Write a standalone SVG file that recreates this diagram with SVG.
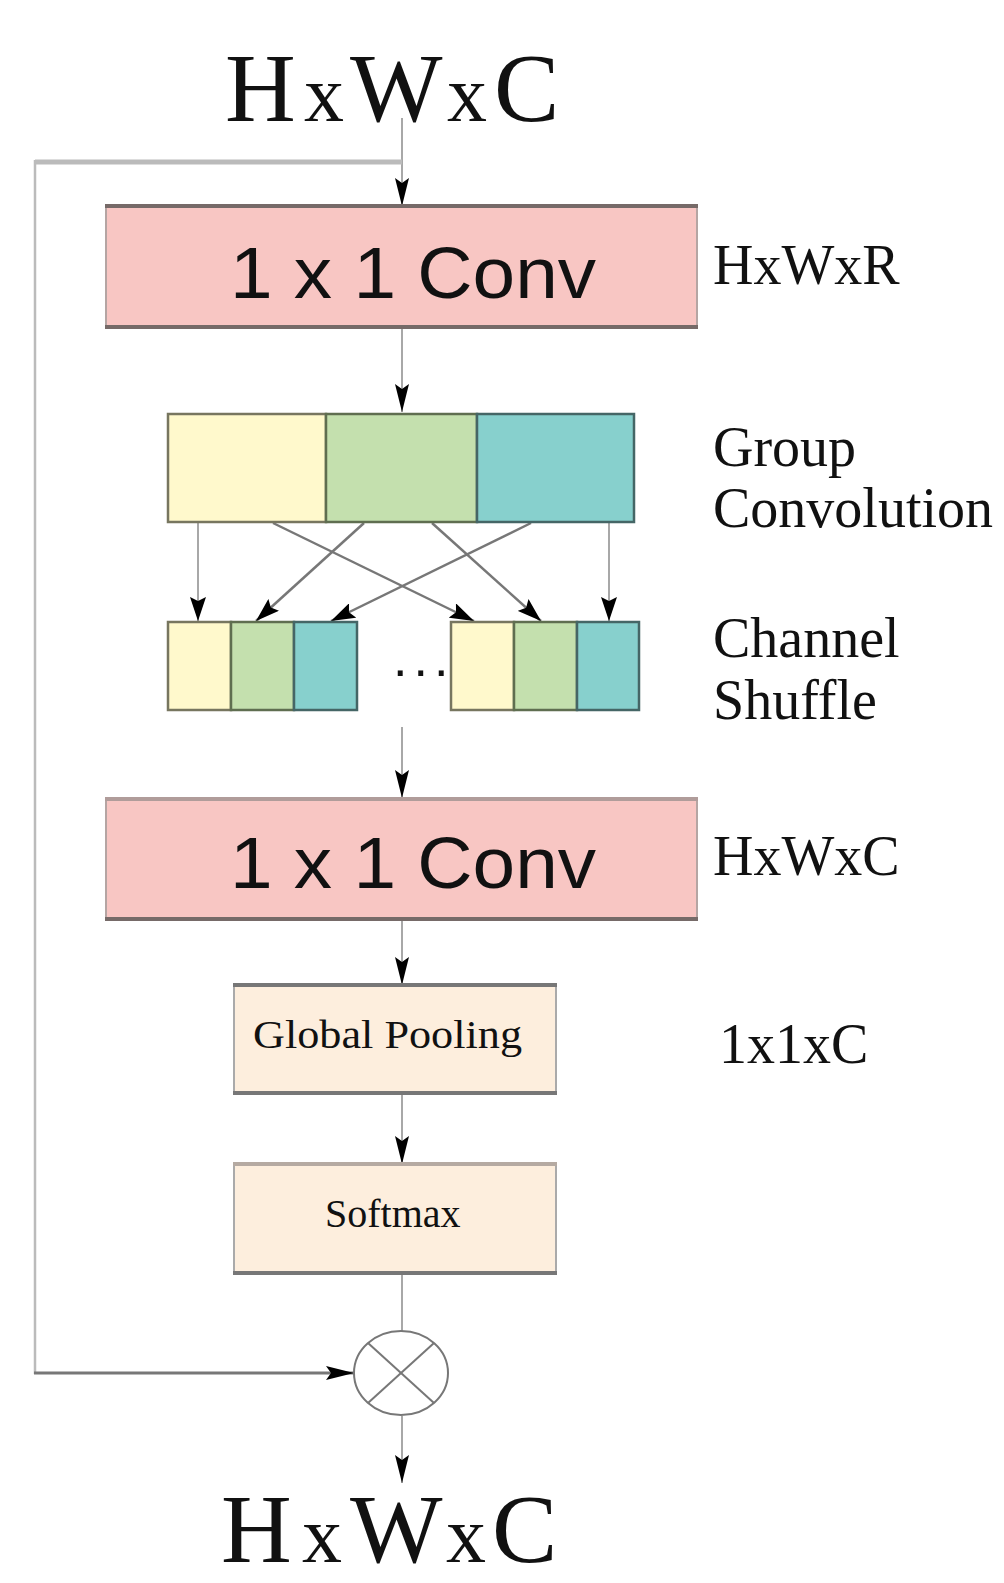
<svg xmlns="http://www.w3.org/2000/svg" width="1004" height="1583" viewBox="0 0 1004 1583">
<defs>
<style>
.serif{font-family:"Liberation Serif","Times New Roman",serif;fill:#111}
.sans{font-family:"Liberation Sans",Arial,sans-serif;fill:#111}
.ln{fill:none;stroke:#a8a8a8;stroke-width:2}
.dg{fill:none;stroke:#777;stroke-width:2.5}
.y{fill:#fff9cc;stroke:#77765f;stroke-width:2.5}
.g{fill:#c4e0ae;stroke:#5f6e50;stroke-width:2.5}
.t{fill:#87d0cd;stroke:#456666;stroke-width:2.5}
.sx{font-size:80px}
</style>
<marker id="ah" markerWidth="28" markerHeight="14" refX="28" refY="7" orient="auto" markerUnits="userSpaceOnUse">
<path d="M0,0 L28,7 L0,14 L5,7 z" fill="#000"/>
</marker>
<marker id="ah2" markerWidth="24" markerHeight="16" refX="24" refY="8" orient="auto" markerUnits="userSpaceOnUse">
<path d="M0,0 L24,8 L0,16 L4,8 z" fill="#000"/>
</marker>
</defs>
<rect width="1004" height="1583" fill="#fff"/>

<g id="connectors">
<line class="ln" x1="402" y1="118" x2="402" y2="206" marker-end="url(#ah)"/>
<polyline points="402,162 35,162" fill="none" stroke="#bbb" stroke-width="5"/>
<line x1="35" y1="160" x2="35" y2="1374" stroke="#bbb" stroke-width="2.5"/>
<line x1="34" y1="1373" x2="354" y2="1373" stroke="#777" stroke-width="3" marker-end="url(#ah)"/>
<line class="ln" x1="402" y1="328" x2="402" y2="412" marker-end="url(#ah)"/>
<line class="ln" x1="198" y1="523" x2="198" y2="621" marker-end="url(#ah2)"/>
<line class="ln" x1="609" y1="523" x2="609" y2="621" marker-end="url(#ah2)"/>
<line class="dg" x1="273" y1="523" x2="474" y2="621" marker-end="url(#ah2)"/>
<line class="dg" x1="364" y1="523" x2="256" y2="621" marker-end="url(#ah2)"/>
<line class="dg" x1="432" y1="523" x2="541" y2="621" marker-end="url(#ah2)"/>
<line class="dg" x1="531" y1="523" x2="331" y2="621" marker-end="url(#ah2)"/>
<line class="ln" x1="402" y1="727" x2="402" y2="798" marker-end="url(#ah)"/>
<line class="ln" x1="402" y1="920" x2="402" y2="985" marker-end="url(#ah)"/>
<line class="ln" x1="402" y1="1094" x2="402" y2="1164" marker-end="url(#ah)"/>
<line class="ln" x1="402" y1="1273" x2="402" y2="1331"/>
<line class="ln" x1="402" y1="1416" x2="402" y2="1483" marker-end="url(#ah)"/>
</g>

<g id="input">
<text class="serif" y="121" font-size="98"><tspan x="225">H</tspan><tspan class="sx" x="304">x</tspan><tspan x="350">W</tspan><tspan class="sx" x="447">x</tspan><tspan x="494">C</tspan></text>
</g>

<g id="conv1">
<rect x="106" y="206" width="591" height="121" fill="#f8c6c3" stroke="#b5a5a3" stroke-width="2"/>
<line x1="105" y1="206" x2="698" y2="206" stroke="#766a68" stroke-width="4"/>
<line x1="105" y1="327" x2="698" y2="327" stroke="#766a68" stroke-width="4"/>
<text class="sans" x="230" y="298" font-size="72" textLength="366" lengthAdjust="spacingAndGlyphs">1 x 1 Conv</text>
</g>
<g id="label-hxwxr"><text class="serif" x="713" y="284" font-size="56">HxWxR</text></g>

<g id="groupconv">
<rect class="y" x="168" y="414" width="158" height="108"/>
<rect class="g" x="326" y="414" width="151" height="108"/>
<rect class="t" x="477" y="414" width="157" height="108"/>
</g>
<g id="label-groupconv">
<text class="serif" x="713" y="466" font-size="56">Group</text>
<text class="serif" x="713" y="527" font-size="56">Convolution</text>
</g>

<g id="shuffle-left">
<rect class="y" x="168" y="622" width="63" height="88"/>
<rect class="g" x="231" y="622" width="63" height="88"/>
<rect class="t" x="294" y="622" width="63" height="88"/>
</g>
<g id="ellipsis"><text class="sans" x="393" y="676" font-size="52" letter-spacing="6">...</text></g>
<g id="shuffle-right">
<rect class="y" x="451" y="622" width="63" height="88"/>
<rect class="g" x="514" y="622" width="63" height="88"/>
<rect class="t" x="577" y="622" width="62" height="88"/>
</g>
<g id="label-shuffle">
<text class="serif" x="713" y="657" font-size="56">Channel</text>
<text class="serif" x="713" y="719" font-size="56">Shuffle</text>
</g>

<g id="conv2">
<rect x="106" y="799" width="591" height="120" fill="#f8c6c3" stroke="#b5a5a3" stroke-width="2"/>
<line x1="105" y1="799" x2="698" y2="799" stroke="#b09c9a" stroke-width="4"/>
<line x1="105" y1="919" x2="698" y2="919" stroke="#766a68" stroke-width="4"/>
<text class="sans" x="230" y="888" font-size="72" textLength="366" lengthAdjust="spacingAndGlyphs">1 x 1 Conv</text>
</g>
<g id="label-hxwxc"><text class="serif" x="713" y="875" font-size="56">HxWxC</text></g>

<g id="pooling">
<rect x="234" y="985" width="322" height="108" fill="#fdeedd" stroke="#aaa" stroke-width="2"/>
<line x1="233" y1="985" x2="557" y2="985" stroke="#777" stroke-width="4"/>
<line x1="233" y1="1093" x2="557" y2="1093" stroke="#777" stroke-width="4"/>
<text class="serif" x="253" y="1048" font-size="40" textLength="269" lengthAdjust="spacingAndGlyphs">Global  Pooling</text>
</g>
<g id="label-1x1xc"><text class="serif" x="719" y="1063" font-size="56">1x1xC</text></g>

<g id="softmax">
<rect x="234" y="1164" width="322" height="109" fill="#fdeedd" stroke="#aaa" stroke-width="2"/>
<line x1="233" y1="1164" x2="557" y2="1164" stroke="#b5aaa2" stroke-width="4"/>
<line x1="233" y1="1273" x2="557" y2="1273" stroke="#777" stroke-width="4"/>
<text class="serif" x="325" y="1227" font-size="40">Softmax</text>
</g>

<g id="multiply">
<ellipse cx="401" cy="1373" rx="47" ry="42" fill="#fff" stroke="#777" stroke-width="2"/>
<line x1="368" y1="1343" x2="434" y2="1403" stroke="#777" stroke-width="2"/>
<line x1="434" y1="1343" x2="368" y2="1403" stroke="#777" stroke-width="2"/>
</g>

<g id="output">
<text class="serif" y="1562" font-size="98"><tspan x="221">H</tspan><tspan class="sx" x="302">x</tspan><tspan x="350">W</tspan><tspan class="sx" x="446">x</tspan><tspan x="492">C</tspan></text>
</g>
</svg>
